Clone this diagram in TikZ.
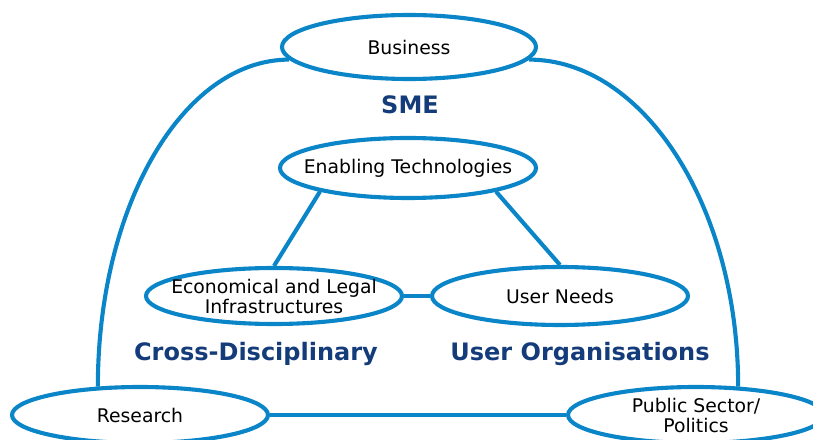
\documentclass[tikz,border=0pt]{standalone}
\usepackage{fontspec}
\setmainfont{DejaVu Sans}
\usetikzlibrary{shapes.geometric}
\definecolor{linkblue}{RGB}{10,133,200}
\definecolor{titleblue}{RGB}{20,60,122}

\begin{document}
\begin{tikzpicture}[x=1pt,y=1pt,
        field/.style={ellipse,draw=linkblue,line width=4.1pt,fill=white,inner ysep=0pt,inner xsep=-45pt,minimum width=256pt,minimum height=58pt,align=center,font=\fontsize{18.8}{20}\selectfont},
        area/.style={text=titleblue,font=\fontsize{24}{28}\selectfont\bfseries},
        link/.style={draw=linkblue,line width=4.1pt}]
        \useasboundingbox (0,0) rectangle (813,439);
        \node[field,minimum width=254pt,minimum height=64pt] (biz) at (409,392) {Business};
        \node[field,minimum height=60pt] (tech) at (408,271) {Enabling Technologies};
        \node[field,minimum height=56pt] (eco) at (274,143) {Economical and Legal\\Infrastructures};
        \node[field] (user) at (560,143) {User Needs};
        \node[field,minimum height=56pt] (res) at (140,24) {Research};
        \node[field,minimum height=56pt] (pub) at (696,24) {Public Sector/\\Politics};
        \draw[link] (biz.186) .. controls +(180:106) and +(90:181) .. (res.146);
        \draw[link] (biz.354) .. controls +(0:114) and +(90:181) .. (pub.34);
        \draw[link] (tech.195) -- (eco.north);
        \draw[link] (tech.345) -- (user.north);
        \draw[link] (eco.east) -- (user.west);
        \draw[link] (res.east) -- (pub.west);
        \node[area] (sme) at (410,334) {SME};
        \node[area] (cross) at (256,85) {Cross-Disciplinary};
        \node[area] (org) at (580,85) {User Organisations};
    \end{tikzpicture}
\end{document}
